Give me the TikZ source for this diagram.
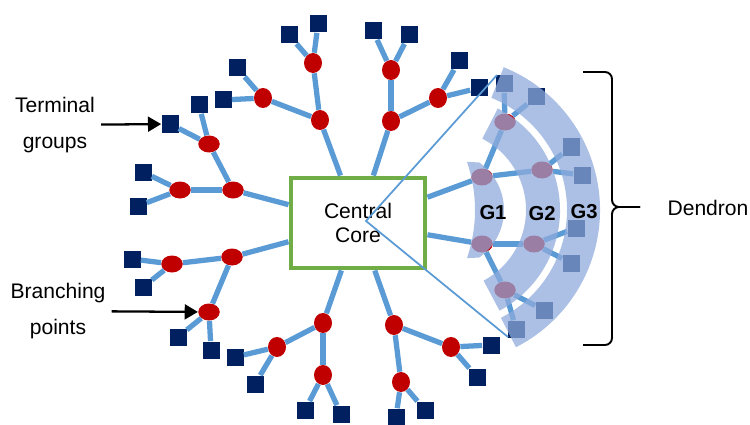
\documentclass[tikz,border=0pt]{standalone}
\usepackage{fontspec}
\setmainfont{Liberation Sans}
\usetikzlibrary{shapes.geometric, arrows.meta, calc}
\definecolor{bondblue}{HTML}{5B9BD5}
\definecolor{pointred}{HTML}{C00000}
\definecolor{groupnavy}{HTML}{002060}
\definecolor{coregreen}{HTML}{70AD47}
\definecolor{shellblue}{HTML}{8FAADC}
\tikzstyle{corebox} = [rectangle, minimum width=26.8mm, minimum height=18mm, align=center, draw=coregreen, line width=2.8pt, fill=white, font=\fontsize{12}{14}\selectfont]
\tikzstyle{branchwide} = [ellipse, minimum width=4.3mm, minimum height=3.4mm, inner sep=0pt, fill=pointred]
\tikzstyle{branchtall} = [ellipse, minimum width=3.6mm, minimum height=4mm, inner sep=0pt, fill=pointred]
\tikzstyle{terminal} = [rectangle, minimum size=3.4mm, inner sep=0pt, fill=groupnavy]
\tikzstyle{bond} = [line width=3pt, bondblue]
\tikzstyle{cone} = [line width=1pt, bondblue]
\tikzstyle{shell} = [fill=shellblue, fill opacity=0.74]
\tikzstyle{shelltext} = [font=\bfseries\fontsize{11.5}{14}\selectfont]
\tikzstyle{sidetext} = [align=center, font=\fontsize{12}{20.4}\selectfont]
\tikzstyle{arrow} = [line width=1.3pt, -{Triangle[length=7.5pt, width=8.5pt]}]

\begin{document}
\begin{tikzpicture}[x=0.2mm, y=0.2mm]
    \useasboundingbox (0,0) rectangle (750,-425);

    \node (core) [corebox] at (358,-223) {Central\\Core};

    \node (t1-point) [branchtall] at (320,-120) {};
    \node (t1a-point) [branchtall] at (313,-63) {};
    \node (t1a1-group) [terminal] at (318,-24) {};
    \node (t1a2-group) [terminal] at (289,-35) {};
    \node (t1b-point) [branchtall] at (263,-98) {};
    \node (t1b1-group) [terminal] at (237,-68) {};
    \node (t1b2-group) [terminal] at (223,-100) {};
    \node (t2-point) [branchtall] at (391,-121) {};
    \node (t2a-point) [branchtall] at (391,-70) {};
    \node (t2a1-group) [terminal] at (373,-31) {};
    \node (t2a2-group) [terminal] at (409,-35) {};
    \node (t2b-point) [branchtall] at (438,-98) {};
    \node (t2b1-group) [terminal] at (459,-61) {};
    \node (t2b2-group) [terminal] at (479,-88) {};

    \node (l1-point) [branchwide] at (233,-190) {};
    \node (l1a-point) [branchwide] at (209,-144) {};
    \node (l1a1-group) [terminal] at (170,-124) {};
    \node (l1a2-group) [terminal] at (199,-105) {};
    \node (l1b-point) [branchwide] at (180,-190) {};
    \node (l1b1-group) [terminal] at (143,-172) {};
    \node (l1b2-group) [terminal] at (138,-206) {};
    \node (l2-point) [branchwide] at (232,-257) {};
    \node (l2a-point) [branchwide] at (172,-264) {};
    \node (l2a1-group) [terminal] at (132,-259) {};
    \node (l2a2-group) [terminal] at (143,-287) {};
    \node (l2b-point) [branchwide] at (209,-312) {};
    \node (l2b1-group) [terminal] at (178,-337) {};
    \node (l2b2-group) [terminal] at (211,-350) {};

    \node (b1-point) [branchtall] at (323,-323) {};
    \node (b1a-point) [branchtall] at (277,-347) {};
    \node (b1a1-group) [terminal] at (235,-357) {};
    \node (b1a2-group) [terminal] at (255,-384) {};
    \node (b1b-point) [branchtall] at (323,-375) {};
    \node (b1b1-group) [terminal] at (305,-410) {};
    \node (b1b2-group) [terminal] at (341,-414) {};
    \node (b2-point) [branchtall] at (394,-325) {};
    \node (b2a-point) [branchtall] at (401,-382) {};
    \node (b2a1-group) [terminal] at (396,-417) {};
    \node (b2a2-group) [terminal] at (425,-410) {};
    \node (b2b-point) [branchtall] at (451,-347) {};
    \node (b2b1-group) [terminal] at (491,-345) {};
    \node (b2b2-group) [terminal] at (477,-377) {};

    \node (d1-point) [branchwide] at (482,-177) {};
    \node (d1a-point) [branchwide] at (505,-122) {};
    \node (d1a1-group) [terminal] at (504,-84) {};
    \node (d1a2-group) [terminal] at (536,-97) {};
    \node (d1b-point) [branchwide] at (542,-170) {};
    \node (d1b1-group) [terminal] at (571,-147) {};
    \node (d1b2-group) [terminal] at (582,-175) {};
    \node (d2-point) [branchwide] at (482,-244) {};
    \node (d2a-point) [branchwide] at (534,-244) {};
    \node (d2a1-group) [terminal] at (576,-228) {};
    \node (d2a2-group) [terminal] at (571,-263) {};
    \node (d2b-point) [branchwide] at (505,-290) {};
    \node (d2b1-group) [terminal] at (544,-310) {};
    \node (d2b2-group) [terminal] at (516,-329) {};

    \draw [bond] (core) -- (t1-point);
    \draw [bond] (t1-point) -- (t1a-point);
    \draw [bond] (t1-point) -- (t1b-point);
    \draw [bond] (t1a-point) -- (t1a1-group);
    \draw [bond] (t1a-point) -- (t1a2-group);
    \draw [bond] (t1b-point) -- (t1b1-group);
    \draw [bond] (t1b-point) -- (t1b2-group);
    \draw [bond] (core) -- (t2-point);
    \draw [bond] (t2-point) -- (t2a-point);
    \draw [bond] (t2-point) -- (t2b-point);
    \draw [bond] (t2a-point) -- (t2a1-group);
    \draw [bond] (t2a-point) -- (t2a2-group);
    \draw [bond] (t2b-point) -- (t2b1-group);
    \draw [bond] (t2b-point) -- (t2b2-group);

    \draw [bond] (core) -- (l1-point);
    \draw [bond] (l1-point) -- (l1a-point);
    \draw [bond] (l1-point) -- (l1b-point);
    \draw [bond] (l1a-point) -- (l1a1-group);
    \draw [bond] (l1a-point) -- (l1a2-group);
    \draw [bond] (l1b-point) -- (l1b1-group);
    \draw [bond] (l1b-point) -- (l1b2-group);
    \draw [bond] (core) -- (l2-point);
    \draw [bond] (l2-point) -- (l2a-point);
    \draw [bond] (l2-point) -- (l2b-point);
    \draw [bond] (l2a-point) -- (l2a1-group);
    \draw [bond] (l2a-point) -- (l2a2-group);
    \draw [bond] (l2b-point) -- (l2b1-group);
    \draw [bond] (l2b-point) -- (l2b2-group);

    \draw [bond] (core) -- (b1-point);
    \draw [bond] (b1-point) -- (b1a-point);
    \draw [bond] (b1-point) -- (b1b-point);
    \draw [bond] (b1a-point) -- (b1a1-group);
    \draw [bond] (b1a-point) -- (b1a2-group);
    \draw [bond] (b1b-point) -- (b1b1-group);
    \draw [bond] (b1b-point) -- (b1b2-group);
    \draw [bond] (core) -- (b2-point);
    \draw [bond] (b2-point) -- (b2a-point);
    \draw [bond] (b2-point) -- (b2b-point);
    \draw [bond] (b2a-point) -- (b2a1-group);
    \draw [bond] (b2a-point) -- (b2a2-group);
    \draw [bond] (b2b-point) -- (b2b1-group);
    \draw [bond] (b2b-point) -- (b2b2-group);

    \draw [bond] (core) -- (d1-point);
    \draw [bond] (d1-point) -- (d1a-point);
    \draw [bond] (d1-point) -- (d1b-point);
    \draw [bond] (d1a-point) -- (d1a1-group);
    \draw [bond] (d1a-point) -- (d1a2-group);
    \draw [bond] (d1b-point) -- (d1b1-group);
    \draw [bond] (d1b-point) -- (d1b2-group);
    \draw [bond] (core) -- (d2-point);
    \draw [bond] (d2-point) -- (d2a-point);
    \draw [bond] (d2-point) -- (d2b-point);
    \draw [bond] (d2a-point) -- (d2a1-group);
    \draw [bond] (d2a-point) -- (d2a2-group);
    \draw [bond] (d2b-point) -- (d2b1-group);
    \draw [bond] (d2b-point) -- (d2b2-group);

    \coordinate (apex) at (366,-221);
    \coordinate (cone-top) at (497,-75);
    \coordinate (cone-bottom) at (508,-337);
    \draw [cone] (cone-top) -- (apex) -- (cone-bottom);

    \coordinate (shell-c) at (446,-210);
    \coordinate (g1-c) at (327,-210);
    \fill [shell] ($(shell-c)+(55:58)$) arc[start angle=55, end angle=-55, radius=11.6mm] -- ($(g1-c)+(-19:148)$) arc[start angle=-19, end angle=19, radius=29.6mm] -- cycle;
    \fill [shell] ($(shell-c)+(63:114)$) arc[start angle=63, end angle=-62, radius=22.8mm] -- ($(shell-c)+(-62:80)$) arc[start angle=-62, end angle=63, radius=16mm] -- cycle;
    \fill [shell] ($(shell-c)+(68:154)$) arc[start angle=68, end angle=-63, radius=30.8mm] -- ($(shell-c)+(-63:121)$) arc[start angle=-63, end angle=68, radius=24.2mm] -- cycle;

    \node (g1) [shelltext] at (493,-213) {G1};
    \node (g2) [shelltext] at (542,-214) {G2};
    \node (g3) [shelltext] at (584,-212) {G3};

    \node (terminal-text) [sidetext] at (55,-125) {Terminal\\groups};
    \node (branching-text) [sidetext] at (58,-311) {Branching\\points};
    \draw [arrow] (terminal-text) -- (l1a1-group);
    \draw [arrow] (branching-text) -- (l2b-point);

    \draw [line width=1.1pt, rounded corners=4pt] (583,-72) -- (612,-72) -- (612,-207) -- (640,-207);
    \draw [line width=1.1pt, rounded corners=4pt] (583,-345) -- (612,-345) -- (612,-207) -- (640,-207);
    \node (dendron-text) [sidetext] at (708,-208) {Dendron};
\end{tikzpicture}
\end{document}
